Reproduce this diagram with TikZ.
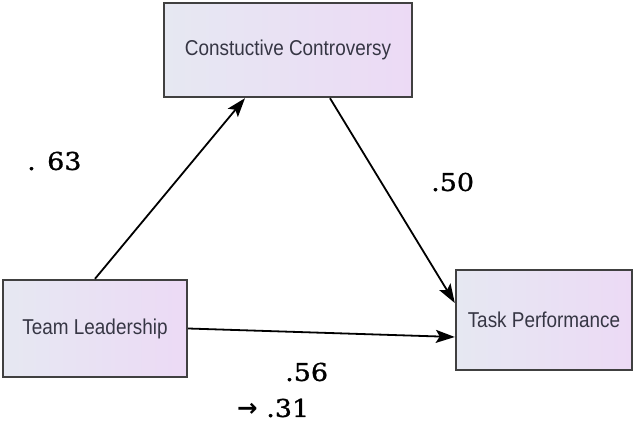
\documentclass[tikz,border=0pt]{standalone}
\usepackage{fontspec}
\setmainfont{Liberation Sans}
\newfontfamily\boxfont[FakeStretch=0.88]{Liberation Sans}
\newfontfamily\numfont[FakeStretch=1.1,FakeBold=1]{DejaVu Serif}
\newfontfamily\arrfont{DejaVu Sans}
\usetikzlibrary{arrows.meta,shadings}
\definecolor{boxleft}{HTML}{E6E8F2}
\definecolor{boxright}{HTML}{ECDAF5}
\definecolor{boxedge}{HTML}{404040}
\definecolor{boxtext}{HTML}{363644}
\begin{document}
\begin{tikzpicture}[x=1pt,y=-1pt,
  varbox/.style={draw=boxedge, line width=2.4pt, left color=boxleft, right color=boxright,
    text=boxtext, font=\boxfont\fontsize{21.5}{24}\selectfont, inner sep=0pt, anchor=center},
  path/.style={line width=1.8pt, -{Stealth[length=19pt,width=13pt,inset=4pt]}},
  coef/.style={font=\numfont\fontsize{24.5}{27}\selectfont, inner sep=0pt, anchor=west}]
\useasboundingbox (0,0) rectangle (633,423);
\node[varbox, minimum width=248pt, minimum height=94pt] (cc) at (288,50) {Constuctive Controversy};
\node[varbox, minimum width=184pt, minimum height=97pt] (tl) at (95,328.5) {Team Leadership};
\node[varbox, minimum width=176pt, minimum height=100pt] (tp) at (544,320) {Task Performance};
\draw[path] (tl.north) -- ([xshift=-43pt]cc.south);
\draw[path] ([xshift=42pt]cc.south) -- ([yshift=17pt]tp.west);
\draw[path] (tl.east) -- ([yshift=-17pt]tp.west);
\node[coef] (l63) at (27,161) {. 63};
\node[coef] (l50) at (431,182) {.50};
\node[coef] (l56) at (285,372) {.56};
\node[coef] (l31) at (237,408) {{\arrfont\bfseries →}\ .31};
\end{tikzpicture}
\end{document}
